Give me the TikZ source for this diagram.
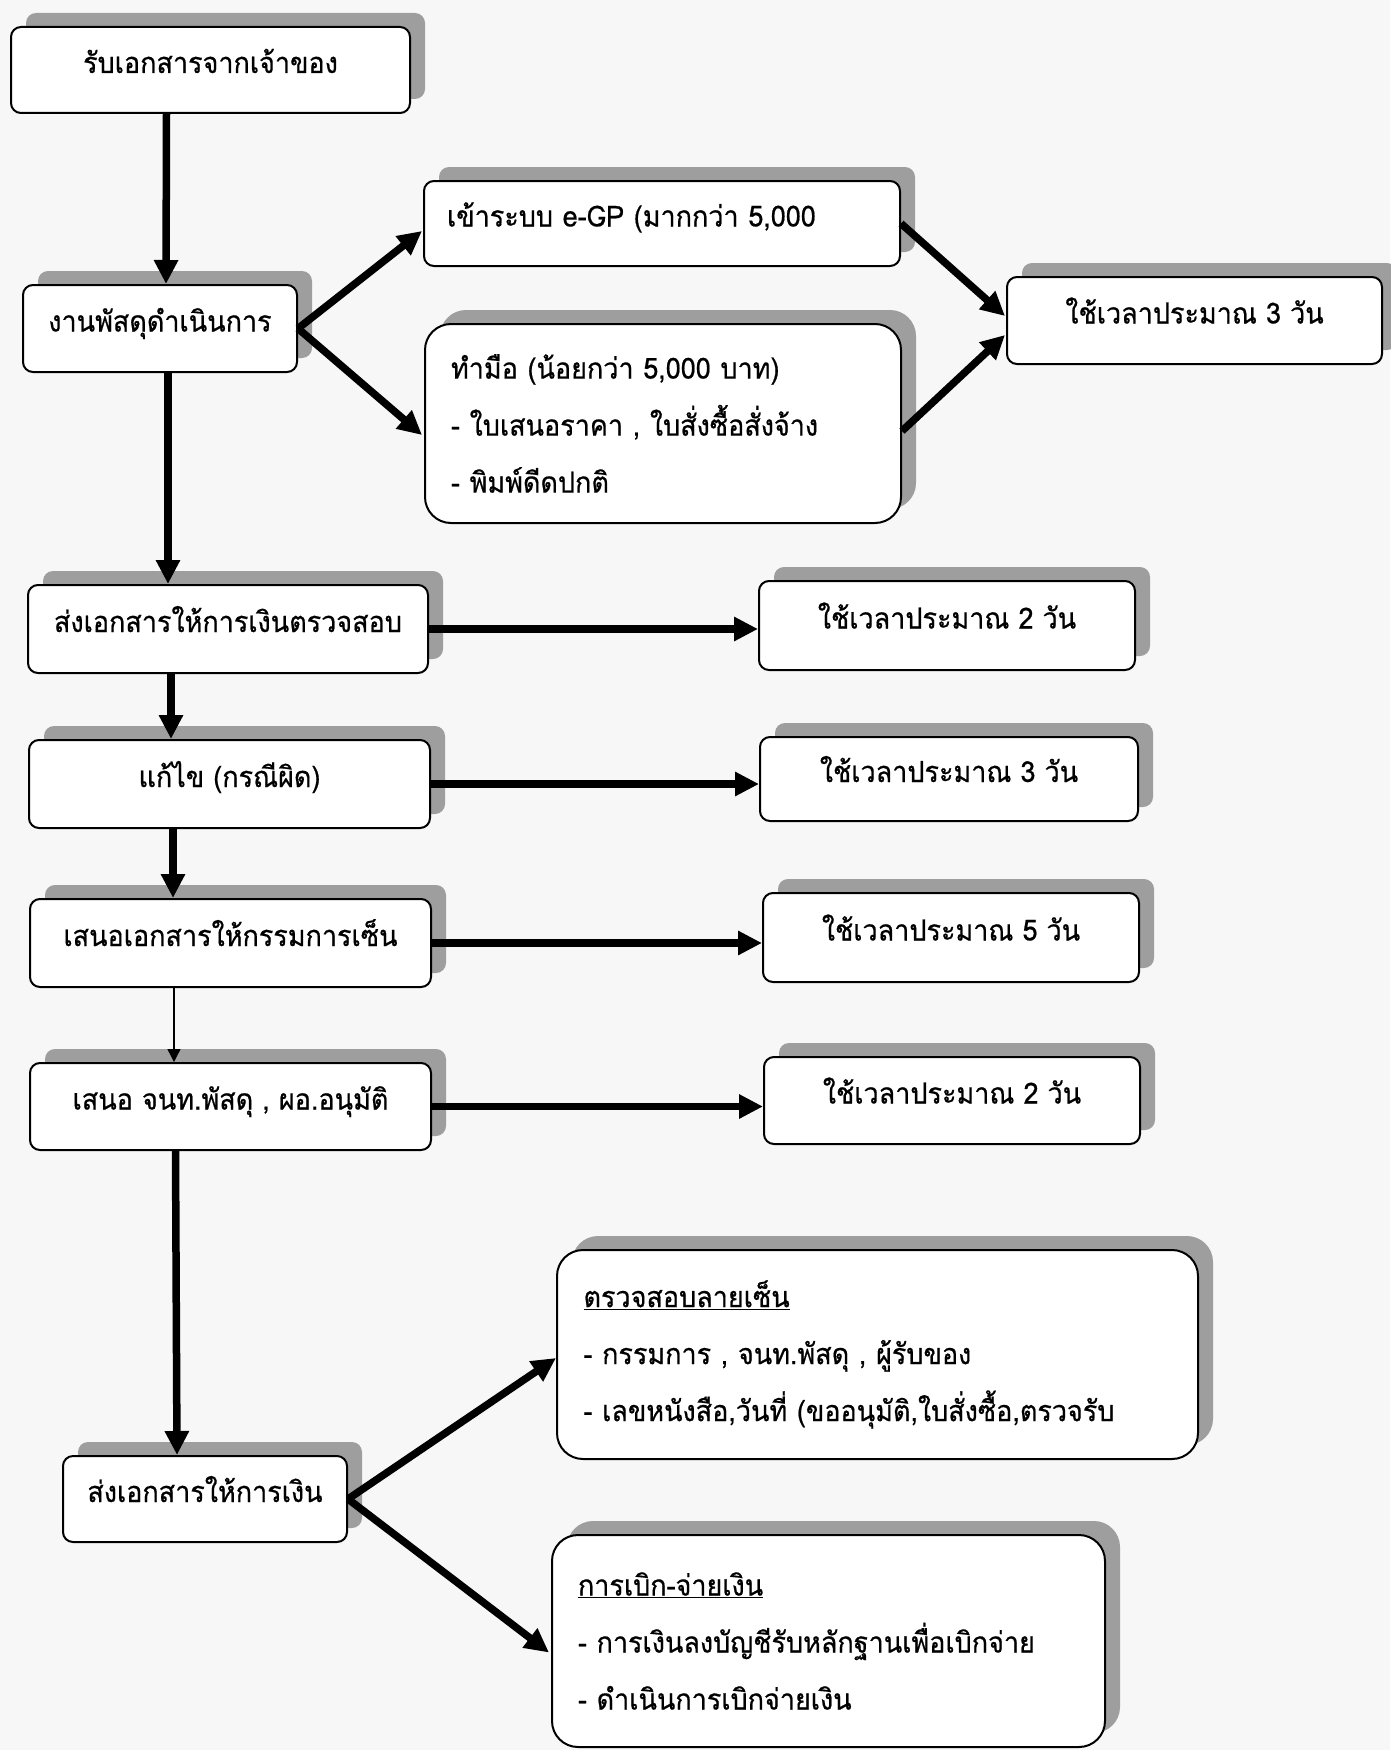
\documentclass[tikz,border=0pt]{standalone}
\usepackage{fontspec}
\newfontfamily\thai[Script=Thai,FakeBold=0.6,FakeStretch=0.93]{Loma}
\usetikzlibrary{arrows.meta,shadows}
\begin{document}
\begin{tikzpicture}[x=1pt,y=-1pt,
  every node/.style={font=\thai\fontsize{29}{57}\selectfont},
  box/.style={draw=black, line width=2pt, fill=white, rounded corners=10pt,
    drop shadow={shadow xshift=15pt,shadow yshift=14pt,fill=black!38,opacity=1},
    inner sep=0pt, align=center},
  one/.style={text height=22pt, text depth=16pt},
  bigbox/.style={box, rounded corners=26pt, align=left},
  arr/.style={line width=7.5pt, -{Triangle[length=24pt,width=23pt]}},
  thinarr/.style={line width=1.3pt, -{Triangle[length=13pt,width=13pt]}}
]
\fill[black!3] (0,0) rectangle (1390,1750);
\useasboundingbox (0,0) rectangle (1390,1750);

% left column
\node[box, one, minimum width=399pt, minimum height=86pt] (A) at (210.5,70) {รับเอกสารจากเจ้าของ};
\node[box, one, minimum width=274pt, minimum height=87pt] (B) at (160,328.5) {งานพัสดุดำเนินการ};
\node[box, one, minimum width=400pt, minimum height=88pt] (F) at (228,629) {ส่งเอกสารให้การเงินตรวจสอบ};
\node[box, one, minimum width=401pt, minimum height=88pt] (H) at (229.5,784) {แก้ไข (กรณีผิด)};
\node[box, one, minimum width=401pt, minimum height=88pt] (J) at (230.5,943) {เสนอเอกสารให้กรรมการเซ็น};
\node[box, one, minimum width=401pt, minimum height=87pt] (L) at (230.5,1106.5) {เสนอ จนท.พัสดุ , ผอ.อนุมัติ};
\node[box, one, minimum width=284pt, minimum height=86pt] (O) at (205,1499) {ส่งเอกสารให้การเงิน};

% upper branch
\node[box, one, minimum width=476pt, minimum height=85pt, align=left, text width=430pt] (C) at (662,223.5) {เข้าระบบ e-GP (มากกว่า 5,000};
\node[bigbox, minimum width=476pt, minimum height=199pt, text width=424pt] (D) at (663,423.5)
  {ทำมือ (น้อยกว่า 5,000 บาท)\\- ใบเสนอราคา , ใบสั่งซื้อสั่งจ้าง\\- พิมพ์ดีดปกติ};
\node[box, one, minimum width=375pt, minimum height=87pt] (E) at (1194.5,320.5) {ใช้เวลาประมาณ 3 วัน};

% time boxes
\node[box, one, minimum width=376pt, minimum height=89pt] (G) at (947,625.5) {ใช้เวลาประมาณ 2 วัน};
\node[box, one, minimum width=378pt, minimum height=84pt] (I) at (949,779) {ใช้เวลาประมาณ 3 วัน};
\node[box, one, minimum width=376pt, minimum height=89pt] (K) at (951,937.5) {ใช้เวลาประมาณ 5 วัน};
\node[box, one, minimum width=376pt, minimum height=87pt] (M) at (952,1100.5) {ใช้เวลาประมาณ 2 วัน};

% lower branch
\node[bigbox, minimum width=641pt, minimum height=209pt, text width=588pt] (N) at (877.5,1354.5)
  {\underline{ตรวจสอบลายเซ็น}\\- กรรมการ , จนท.พัสดุ , ผู้รับของ\\- เลขหนังสือ,วันที่ (ขออนุมัติ,ใบสั่งซื้อ,ตรวจรับ};
\node[bigbox, minimum width=553pt, minimum height=212pt, text width=501pt] (P) at (828.5,1641)
  {\underline{การเบิก-จ่ายเงิน}\\- การเงินลงบัญชีรับหลักฐานเพื่อเบิกจ่าย\\- ดำเนินการเบิกจ่ายเงิน};

% vertical arrows
\draw[arr] ([xshift=-44pt]A.south) -- ([xshift=6pt]B.north);
\draw[arr] ([xshift=8pt]B.south) -- ([xshift=-60pt]F.north);
\draw[arr] ([xshift=-57pt]F.south) -- ([xshift=-58.5pt]H.north);
\draw[arr] ([xshift=-56.5pt]H.south) -- ([xshift=-57.5pt]J.north);
\draw[thinarr] ([xshift=-56.5pt]J.south) -- ([xshift=-56.5pt]L.north);
\draw[arr] ([xshift=-55pt]L.south) -- ([xshift=-28pt]O.north);

% horizontal arrows
\draw[arr] (F.east) -- (F.east -| G.west);
\draw[arr] (H.east) -- (H.east -| I.west);
\draw[arr] (J.east) -- (J.east -| K.west);
\draw[arr] (L.east) -- (L.east -| M.west);

% diagonal arrows
\draw[arr] (B.east) -- ([yshift=-7.5pt,xshift=-1pt]C.west);
\draw[arr] (B.east) -- ([yshift=-11.5pt,xshift=-2pt]D.west);
\draw[arr] (C.east) -- ([yshift=4.5pt,xshift=-1pt]E.west);
\draw[arr] ([yshift=-7.5pt]D.east) -- ([yshift=-14.5pt,xshift=-1pt]E.west);
\draw[arr] (O.east) -- ([yshift=-3.5pt]N.west);
\draw[arr] (O.east) -- ([yshift=-11.5pt,xshift=-2pt]P.west);
\end{tikzpicture}
\end{document}
